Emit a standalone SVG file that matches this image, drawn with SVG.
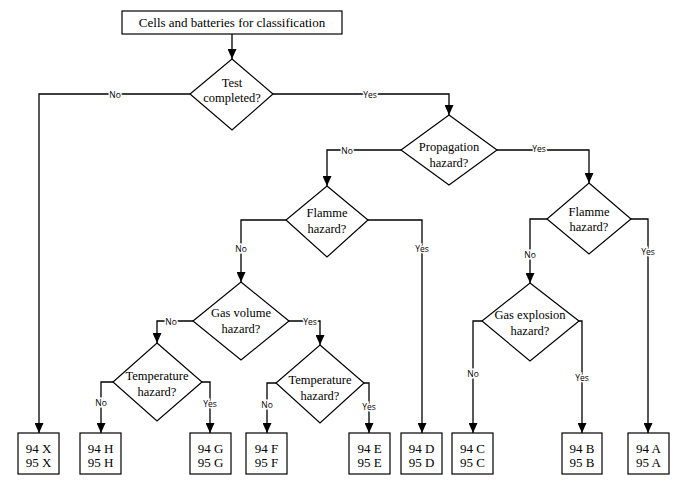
<svg xmlns="http://www.w3.org/2000/svg" width="700" height="489" viewBox="0 0 700 489">
<style>
.shape{fill:#fff;stroke:#000;stroke-width:1.2}
.conn{fill:none;stroke:#000;stroke-width:1.3}
.t{font-family:"Liberation Serif","Times New Roman",serif;font-size:12.5px;fill:#000;text-anchor:middle}
.b{font-family:"Liberation Serif","Times New Roman",serif;font-size:13px;fill:#000;text-anchor:middle}
.lbl{font-family:"Open Sans","Liberation Sans",sans-serif;font-size:8.5px;fill:#000;text-anchor:middle;dominant-baseline:central;stroke:#fff;stroke-width:3px;paint-order:stroke}
</style>
<defs>
<marker id="arr" markerUnits="userSpaceOnUse" markerWidth="10" markerHeight="9" viewBox="0 0 10 9" refX="10" refY="4.5" orient="auto">
<path d="M0,0 L10,4.5 L0,9 z" fill="#000"/>
</marker>
</defs>
<rect width="700" height="489" fill="#fff"/>
<g id="connectors">
<path class="conn" d="M232,34 V59" marker-end="url(#arr)"/>
<path class="conn" d="M190,94 H39 V433" marker-end="url(#arr)"/>
<path class="conn" d="M273,94 H449 V115" marker-end="url(#arr)"/>
<path class="conn" d="M401,150 H327 V186" marker-end="url(#arr)"/>
<path class="conn" d="M497,150 H589 V183" marker-end="url(#arr)"/>
<path class="conn" d="M286,220 H241 V282" marker-end="url(#arr)"/>
<path class="conn" d="M368,220 H422 V433" marker-end="url(#arr)"/>
<path class="conn" d="M193,321 H157 V343" marker-end="url(#arr)"/>
<path class="conn" d="M289,321 H320 V345" marker-end="url(#arr)"/>
<path class="conn" d="M113,382 H101 V433" marker-end="url(#arr)"/>
<path class="conn" d="M202,382 H210 V433" marker-end="url(#arr)"/>
<path class="conn" d="M276,383 H267 V433" marker-end="url(#arr)"/>
<path class="conn" d="M364,383 H369 V433" marker-end="url(#arr)"/>
<path class="conn" d="M547,219 H530 V283" marker-end="url(#arr)"/>
<path class="conn" d="M631,219 H648 V433" marker-end="url(#arr)"/>
<path class="conn" d="M482,321 H473 V433" marker-end="url(#arr)"/>
<path class="conn" d="M579,321 H582 V433" marker-end="url(#arr)"/>
<text class="lbl" x="115" y="94">No</text>
<text class="lbl" x="370" y="94">Yes</text>
<text class="lbl" x="347" y="150">No</text>
<text class="lbl" x="539" y="148">Yes</text>
<text class="lbl" x="241" y="248">No</text>
<text class="lbl" x="422" y="248">Yes</text>
<text class="lbl" x="171" y="321">No</text>
<text class="lbl" x="310" y="321">Yes</text>
<text class="lbl" x="101" y="402">No</text>
<text class="lbl" x="210" y="403">Yes</text>
<text class="lbl" x="267" y="404">No</text>
<text class="lbl" x="369" y="406">Yes</text>
<text class="lbl" x="530" y="254">No</text>
<text class="lbl" x="648" y="251">Yes</text>
<text class="lbl" x="473" y="373">No</text>
<text class="lbl" x="582" y="377">Yes</text>
</g>
<g id="start">
<rect class="shape" x="122" y="11" width="220" height="23"/>
<text class="b" x="232" y="27">Cells and batteries for classification</text>
</g>
<g id="d-test">
<polygon class="shape" points="232,59 273,94 232,130 190,94"/>
<text class="t" x="232" y="87">Test</text>
<text class="t" x="232" y="102">completed?</text>
</g>
<g id="d-prop">
<polygon class="shape" points="449,115 497,150 449,185 401,150"/>
<text class="t" x="449" y="151">Propagation</text>
<text class="t" x="449" y="167">hazard?</text>
</g>
<g id="d-flamme-l">
<polygon class="shape" points="327,186 368,220 327,257 286,220"/>
<text class="t" x="327" y="217">Flamme</text>
<text class="t" x="327" y="233">hazard?</text>
</g>
<g id="d-flamme-r">
<polygon class="shape" points="589,183 631,219 589,254 547,219"/>
<text class="t" x="589" y="216">Flamme</text>
<text class="t" x="589" y="231">hazard?</text>
</g>
<g id="d-gasvol">
<polygon class="shape" points="241,282 289,321 241,360 193,321"/>
<text class="t" x="241" y="317">Gas volume</text>
<text class="t" x="241" y="333">hazard?</text>
</g>
<g id="d-temp-l">
<polygon class="shape" points="157,343 202,382 157,421 113,382"/>
<text class="t" x="157" y="380">Temperature</text>
<text class="t" x="157" y="396">hazard?</text>
</g>
<g id="d-temp-r">
<polygon class="shape" points="320,345 364,383 320,423 276,383"/>
<text class="t" x="320" y="384">Temperature</text>
<text class="t" x="320" y="400">hazard?</text>
</g>
<g id="d-gasexp">
<polygon class="shape" points="530,283 579,321 530,361 482,321"/>
<text class="t" x="530" y="319">Gas explosion</text>
<text class="t" x="530" y="335">hazard?</text>
</g>
<g id="box-x"><rect class="shape" x="18" y="433" width="41" height="41"/><text class="b" x="38.5" y="453">94 X</text><text class="b" x="38.5" y="467">95 X</text></g>
<g id="box-h"><rect class="shape" x="80" y="433" width="41" height="41"/><text class="b" x="100.5" y="453">94 H</text><text class="b" x="100.5" y="467">95 H</text></g>
<g id="box-g"><rect class="shape" x="190" y="433" width="41" height="41"/><text class="b" x="210.5" y="453">94 G</text><text class="b" x="210.5" y="467">95 G</text></g>
<g id="box-f"><rect class="shape" x="246" y="433" width="41" height="41"/><text class="b" x="266.5" y="453">94 F</text><text class="b" x="266.5" y="467">95 F</text></g>
<g id="box-e"><rect class="shape" x="349" y="433" width="41" height="41"/><text class="b" x="369.5" y="453">94 E</text><text class="b" x="369.5" y="467">95 E</text></g>
<g id="box-d"><rect class="shape" x="401" y="433" width="41" height="41"/><text class="b" x="421.5" y="453">94 D</text><text class="b" x="421.5" y="467">95 D</text></g>
<g id="box-c"><rect class="shape" x="452" y="433" width="41" height="41"/><text class="b" x="472.5" y="453">94 C</text><text class="b" x="472.5" y="467">95 C</text></g>
<g id="box-b"><rect class="shape" x="562" y="433" width="40" height="41"/><text class="b" x="582" y="453">94 B</text><text class="b" x="582" y="467">95 B</text></g>
<g id="box-a"><rect class="shape" x="628" y="433" width="41" height="41"/><text class="b" x="648.5" y="453">94 A</text><text class="b" x="648.5" y="467">95 A</text></g>
</svg>
